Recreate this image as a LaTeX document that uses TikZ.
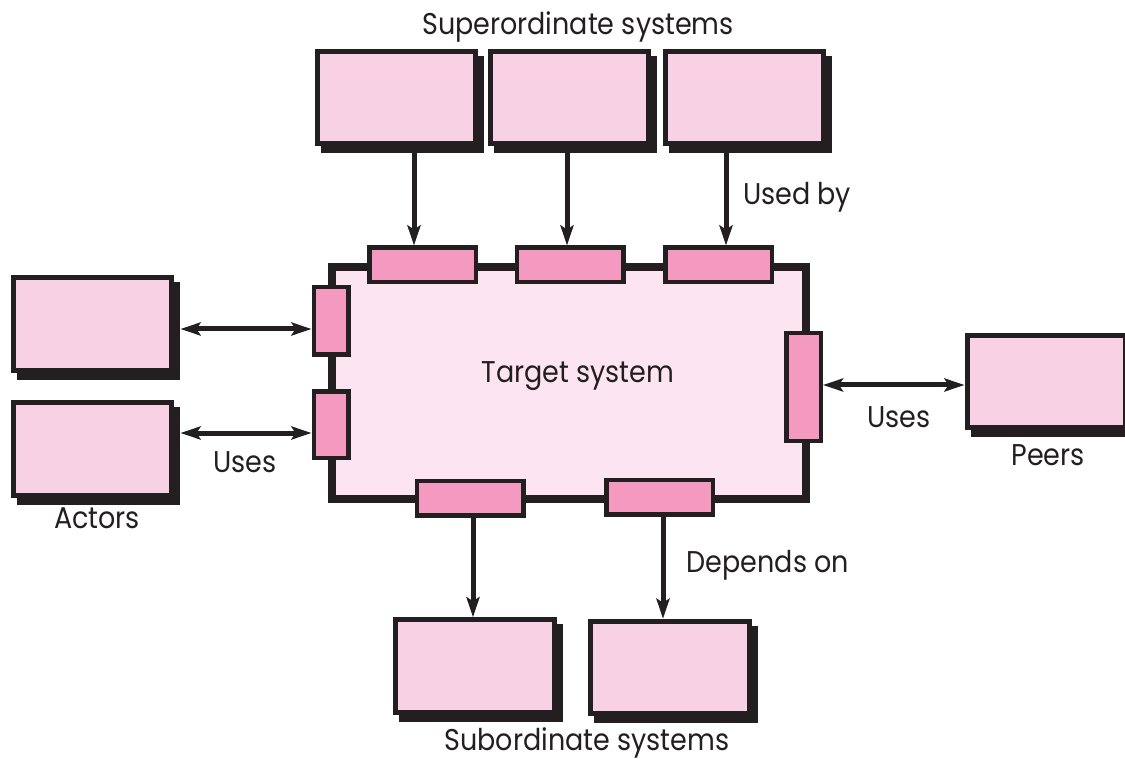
\documentclass[tikz,border=0pt]{standalone}
\usepackage{fontspec}
\setmainfont{Poppins}[FakeStretch=0.9]
\usetikzlibrary{arrows.meta}
\definecolor{ink}{HTML}{231F20}
\definecolor{boxpink}{HTML}{F9D1E4}
\definecolor{sysfill}{HTML}{FCE5F0}
\definecolor{portpink}{HTML}{F49AC1}
\pgfdeclarelayer{paper}
\pgfdeclarelayer{shadow}
\pgfsetlayers{paper,shadow,main}
% solid black offset shadow behind a box
\newcommand\dropshade[1]{%
  \begin{pgfonlayer}{shadow}
    \fill[ink] ([shift={(6,7)}]#1.north west) rectangle ([shift={(6,7)}]#1.south east);
  \end{pgfonlayer}}
\begin{document}
\begin{tikzpicture}[x=1pt,y=-1pt,
  sysbox/.style={draw=ink, fill=boxpink, line width=5pt, inner sep=0pt,
    minimum width=158pt, minimum height=92.5pt},
  target/.style={draw=ink, fill=sysfill, line width=8.5pt, inner sep=0pt,
    minimum width=474pt, minimum height=232pt},
  hport/.style={draw=ink, fill=portpink, line width=4.5pt, inner sep=0pt,
    minimum width=106.5pt, minimum height=34.5pt},
  vport/.style={draw=ink, fill=portpink, line width=4.5pt, inner sep=0pt,
    minimum width=34.5pt, minimum height=#1},
  arr/.style={draw=ink, line width=5pt,
    -{Stealth[length=20pt,width=13pt,inset=4pt]}},
  darr/.style={draw=ink, line width=5pt,
    {Stealth[length=20pt,width=13pt,inset=4pt]}-{Stealth[length=20pt,width=13pt,inset=4pt]}},
  lbl/.style={font=\fontsize{30}{36}\selectfont, text=ink, anchor=base, inner sep=0pt}]

\useasboundingbox (0,0) rectangle (1125,759);
\begin{pgfonlayer}{paper}
  \fill[white] (0,0) rectangle (1125,759);
\end{pgfonlayer}

% target system with its interfaces
\node[target] (sys) at (569,383) {};
\node[hport] (t1) at (422.5,265) {};
\node[hport] (t2) at (570,265) {};
\node[hport] (t3) at (718.5,265) {};
\node[vport=67.5pt] (l1) at (331,321) {};
\node[vport=66.5pt] (l2) at (331,424.5) {};
\node[vport=107.5pt] (r1) at (803.5,387) {};
\node[hport] (s1) at (470,498) {};
\node[hport] (s2) at (659.5,497) {};

% superordinate systems
\node[sysbox] (T1) at (396.5,97.5) {};
\node[sysbox] (T2) at (569.5,97.5) {};
\node[sysbox] (T3) at (744.5,97.5) {};
% actors
\node[sysbox] (A1) at (92,324) {};
\node[sysbox] (A2) at (92,449) {};
% peers
\node[sysbox] (P) at (1046,381.5) {};
% subordinate systems
\node[sysbox, minimum width=159pt] (S1) at (475,666) {};
\node[sysbox, minimum width=159pt] (S2) at (670,667.5) {};

\foreach \b in {T1,T2,T3,A1,A2,P,S1,S2} {\dropshade{\b}}

% connector positions
\coordinate (xa) at (414,0);
\coordinate (xb) at (567,0);
\coordinate (xc) at (726,0);
\coordinate (xd) at (473,0);
\coordinate (xe) at (663,0);
\coordinate (ya) at (0,329);
\coordinate (yb) at (0,433);
\coordinate (yc) at (0,385);

\draw[arr] (T1.south -| xa) -- (t1.north -| xa);
\draw[arr] (T2.south -| xb) -- (t2.north -| xb);
\draw[arr] (T3.south -| xc) -- (t3.north -| xc);
\draw[arr] (s1.south -| xd) -- (S1.north -| xd);
\draw[arr] (s2.south -| xe) -- (S2.north -| xe);
\draw[darr, shorten <=7pt] (A1.east |- ya) -- (l1.west |- ya);
\draw[darr, shorten <=7pt] (A2.east |- yb) -- (l2.west |- yb);
\draw[darr] (r1.east |- yc) -- (P.west |- yc);

% labels
\node[lbl] (lsup) at (578,35) {Superordinate systems};
\node[lbl] (lused) at (797,205) {Used by};
\node[lbl] (ltarget) at (578,382) {Target system};
\node[lbl] (luses1) at (245,472) {Uses};
\node[lbl] (lactors) at (97,528) {Actors};
\node[lbl] (luses2) at (899,428) {Uses};
\node[lbl] (lpeers) at (1048,465) {Peers};
\node[lbl] (ldep) at (768,572) {Depends on};
\node[lbl] (lsub) at (587,750) {Subordinate systems};
\end{tikzpicture}
\end{document}
